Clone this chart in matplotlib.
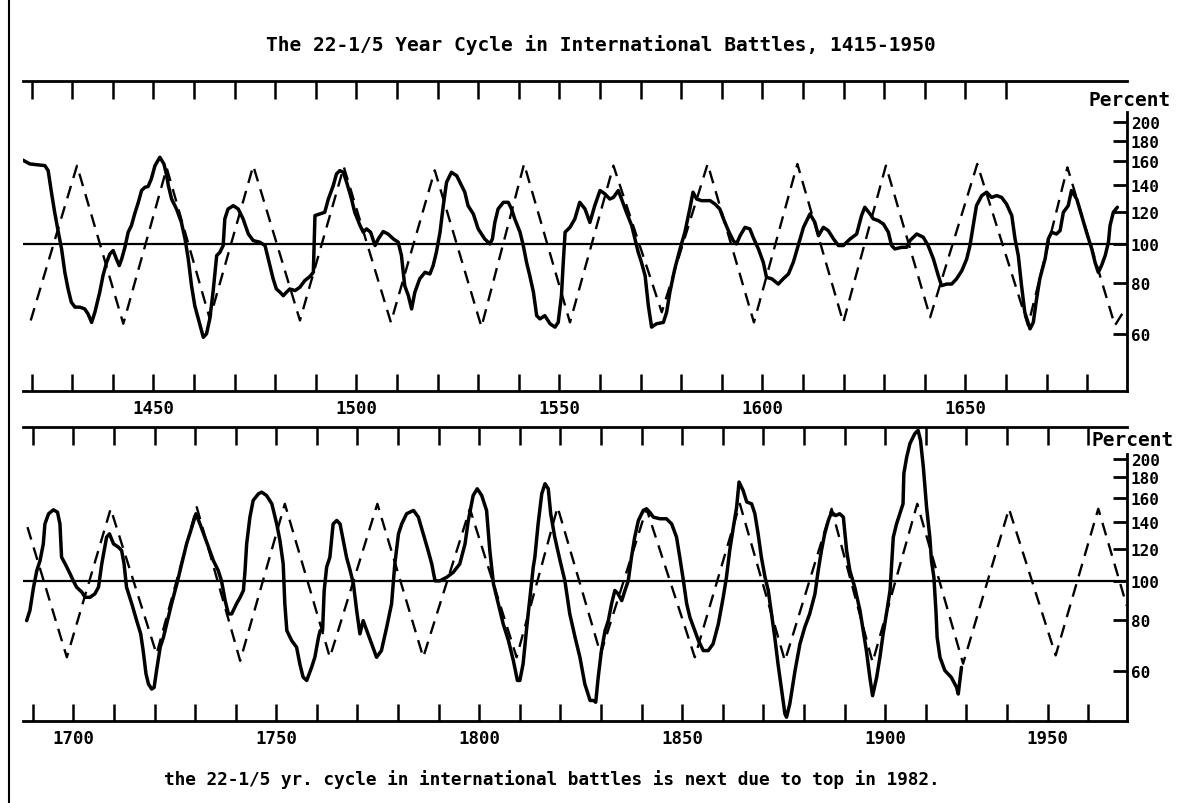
import matplotlib
matplotlib.use('Agg')
import matplotlib.pyplot as plt
from matplotlib.lines import Line2D
from matplotlib.ticker import NullLocator, NullFormatter

# ---------------- data ----------------
title = "The 22-1/5 Year Cycle in International Battles, 1415-1950"
footer = "the 22-1/5 yr. cycle in international battles is next due to top in 1982."

# Battles index, upper panel (percent of trend)
top_years = [1417.9, 1419.6, 1423.3, 1424.1, 1424.9, 1425.7, 1426.6, 1427.4, 1428.2, 1429.0,
             1429.8, 1430.7, 1431.9, 1433.1, 1433.9, 1434.8, 1435.6, 1436.8, 1437.6, 1438.5,
             1439.3, 1440.1, 1440.9, 1441.6, 1442.2, 1443.0, 1443.8, 1444.6, 1445.4, 1446.3,
             1447.1, 1447.9, 1448.7, 1449.5, 1450.4, 1451.6, 1452.6, 1453.2, 1453.7, 1454.5,
             1455.7, 1456.9, 1457.8, 1458.6, 1459.4, 1460.2, 1461.5, 1462.3, 1463.1, 1463.9,
             1464.7, 1465.6, 1466.4, 1467.2, 1467.6, 1468.4, 1469.7, 1470.9, 1472.1, 1473.4,
             1474.6, 1476.2, 1477.5, 1478.3, 1479.5, 1480.3, 1481.2, 1482.0, 1482.8, 1483.6,
             1484.9, 1486.1, 1487.3, 1488.5,
             1489.4, 1489.8, 1491.0, 1492.2, 1493.1, 1494.3, 1495.1, 1495.9, 1496.8, 1497.6,
             1498.8, 1499.6, 1500.9, 1501.7, 1502.5, 1503.5, 1504.6, 1505.4, 1506.6, 1507.8,
             1509.1, 1510.3, 1511.1, 1511.9, 1512.8, 1513.6, 1514.4, 1515.6, 1516.9, 1518.1,
             1518.9, 1519.7, 1520.6, 1521.4, 1522.2, 1523.4, 1524.7, 1525.9, 1526.7, 1527.5,
             1528.8, 1530.0, 1531.6, 1532.9, 1533.5, 1534.1, 1534.9, 1536.2, 1537.4, 1538.2,
             1539.0, 1540.3, 1541.1, 1541.9, 1542.7, 1543.6, 1544.4, 1545.2, 1546.4, 1547.7,
             1548.9, 1549.7, 1550.5, 1550.9, 1551.4, 1552.6, 1553.8, 1555.0, 1556.3, 1557.5,
             1558.7, 1560.0, 1561.2, 1562.4, 1563.3, 1564.5, 1565.3, 1566.5, 1567.8, 1568.6,
             1569.4, 1570.2, 1571.1, 1571.9, 1572.7, 1573.9, 1575.6, 1576.4, 1577.2, 1578.4,
             1579.7, 1580.9, 1582.1, 1582.9, 1583.8, 1585.0, 1587.1, 1588.3, 1589.5, 1590.4,
             1591.6, 1592.8, 1593.6, 1594.5, 1595.7, 1596.9, 1597.7, 1599.0, 1600.2, 1601.0,
             1602.3, 1603.9, 1605.1, 1606.4, 1607.6, 1608.8, 1610.1, 1611.7, 1612.9, 1613.8,
             1615.0, 1616.2, 1617.5, 1618.7, 1619.9, 1621.6, 1623.2, 1624.4, 1625.2, 1626.5,
             1627.3, 1628.5, 1629.8, 1631.0, 1631.8, 1632.6, 1634.3, 1635.5, 1636.3, 1638.0,
             1639.6, 1640.8, 1642.1, 1643.3, 1644.1, 1645.4, 1646.6, 1647.8, 1649.1, 1650.3,
             1651.1, 1651.9, 1652.7, 1654.0, 1655.2, 1656.4, 1657.7, 1658.9, 1660.1, 1661.4,
             1662.2, 1663.0, 1663.8, 1664.6, 1665.9, 1666.7, 1667.5, 1668.3, 1669.6, 1670.4,
             1671.2, 1672.4, 1673.3, 1674.1, 1675.3, 1676.1, 1677.4, 1678.6, 1679.8, 1681.1,
             1681.9, 1682.7, 1683.5, 1684.4, 1685.2, 1685.6, 1686.4, 1687.4]
top_values = [161.0, 157.6, 156.1, 151.7, 134.2, 119.7, 106.9, 97.2, 85.1, 77.4,
              71.8, 69.8, 69.8, 69.1, 67.2, 64.0, 67.8, 76.0, 83.5, 90.1,
              94.5, 96.3, 91.8, 88.4, 91.8, 98.1, 106.9, 111.0, 118.6, 126.7,
              135.5, 138.0, 138.6, 144.7, 156.1, 163.7, 157.6, 148.9, 139.3, 129.1,
              122.0, 113.1, 102.9, 91.8, 78.9, 70.4, 62.9, 58.8, 60.0, 65.3,
              76.0, 93.6, 95.4, 99.1, 115.3, 122.0, 124.3, 122.0, 115.3, 105.8,
              101.9, 101.0, 99.1, 91.8, 82.0, 77.4, 76.0, 74.5, 76.0, 77.4,
              76.7, 78.2, 81.2, 83.0,
              85.1, 117.5, 118.6, 119.7, 129.1, 139.3, 148.9, 151.7, 150.3, 142.0,
              129.1, 119.7, 111.0, 106.9, 108.9, 106.9, 99.1, 102.9, 107.3, 105.8,
              102.9, 101.0, 93.6, 78.9, 74.5, 69.1, 76.0, 82.0, 85.1, 84.3,
              88.4, 95.4, 106.9, 124.3, 142.0, 150.3, 147.4, 139.3, 134.2, 124.3,
              118.6, 108.9, 102.9, 100.0, 102.9, 113.1, 122.0, 126.7, 126.7, 122.0,
              115.3, 106.9, 99.1, 90.1, 83.5, 76.0, 66.5, 65.3, 66.5, 63.5,
              62.3, 64.0, 74.5, 88.4, 106.9, 109.9, 115.3, 126.7, 122.0, 113.0,
              124.3, 135.5, 132.9, 129.1, 130.3, 135.5, 129.1, 119.7, 111.0, 102.9,
              95.4, 90.1, 83.5, 70.4, 62.3, 63.5, 64.0, 67.8, 76.0, 86.7,
              97.2, 106.9, 122.0, 134.2, 129.1, 127.9, 127.9, 125.5, 122.0, 115.3,
              107.9, 101.9, 100.0, 104.8, 109.9, 108.9, 103.9, 97.2, 90.1, 82.7,
              82.0, 79.6, 82.0, 84.3, 90.1, 99.1, 109.9, 118.6, 113.1, 104.8,
              109.9, 107.9, 102.9, 99.1, 99.1, 102.9, 105.8, 117.5, 123.2, 118.6,
              115.3, 114.2, 112.0, 106.9, 99.1, 97.2, 98.1, 98.1, 101.9, 105.8,
              103.9, 99.1, 91.8, 83.5, 78.9, 79.6, 79.6, 82.0, 85.9, 91.8,
              99.1, 111.0, 124.3, 131.6, 134.2, 130.3, 131.6, 130.3, 125.5, 117.5,
              102.9, 93.6, 78.9, 67.8, 61.7, 64.0, 73.1, 82.0, 91.8, 102.9,
              106.9, 105.8, 107.9, 119.7, 124.3, 135.5, 129.1, 117.5, 106.9, 97.2,
              90.1, 85.1, 88.4, 93.6, 101.0, 111.0, 119.7, 123.2]

# Battles index, lower panel
bot_years = [1688.5, 1689.3, 1690.2, 1691.0, 1691.8, 1692.6, 1693.0, 1693.9, 1695.1, 1696.1,
             1696.7, 1697.1, 1698.0, 1699.2, 1700.0, 1700.8, 1702.1, 1702.9, 1704.1, 1705.3,
             1706.2, 1707.0, 1708.2, 1708.9, 1709.9, 1711.1, 1711.9, 1712.5, 1713.1, 1714.4,
             1715.6, 1716.6, 1717.2, 1717.9, 1718.5, 1719.3, 1719.9, 1720.5, 1721.4, 1722.2,
             1723.0, 1724.2, 1725.5, 1726.7, 1727.9, 1729.2, 1730.2, 1731.2, 1732.4, 1733.3,
             1734.5, 1735.7, 1736.5, 1737.4, 1738.2, 1739.0, 1740.2, 1741.1, 1741.9, 1742.3,
             1742.7, 1743.5, 1744.3, 1745.6, 1746.4, 1747.6, 1748.9, 1750.1, 1750.9, 1751.7,
             1752.1, 1752.6, 1753.8, 1755.0, 1755.8, 1756.6, 1757.5,
             1758.7, 1759.5, 1760.4, 1760.8, 1761.4, 1761.8, 1762.4, 1763.2, 1764.0, 1764.9,
             1765.7, 1766.5, 1767.3, 1768.2, 1769.0, 1769.8, 1770.6, 1771.4, 1772.3, 1773.5,
             1774.7, 1775.9, 1777.2, 1778.4, 1779.2, 1780.1, 1780.9, 1782.1, 1783.8, 1785.0,
             1786.2, 1787.4, 1788.3, 1789.1, 1790.3, 1792.0, 1793.6, 1795.2, 1796.5, 1797.3,
             1798.5, 1799.5, 1800.6, 1801.8, 1802.6, 1803.5, 1804.7, 1805.9, 1807.2, 1808.4,
             1809.4, 1810.0, 1810.8, 1811.7, 1812.5, 1813.3, 1813.7, 1814.5, 1815.4, 1816.2,
             1817.0, 1817.6, 1818.6, 1819.9, 1821.1, 1822.3, 1823.6, 1824.8, 1826.0, 1827.3,
             1828.1, 1828.7, 1829.3, 1830.1, 1831.0, 1831.8, 1832.6, 1833.4, 1834.2, 1835.1,
             1835.9, 1836.7, 1837.5, 1838.3, 1839.2, 1840.4, 1841.2, 1842.0, 1842.9, 1844.5,
             1846.1, 1847.4, 1848.6, 1849.4, 1850.3, 1851.1, 1851.9, 1853.1, 1854.0, 1855.2,
             1856.4, 1857.6, 1858.9, 1860.1, 1860.9, 1861.7, 1862.6, 1863.4, 1864.0, 1865.0,
             1865.9, 1867.1, 1867.9, 1868.7, 1869.5, 1870.4, 1871.2, 1872.0, 1872.8, 1873.6,
             1874.5, 1875.3, 1875.7, 1876.5, 1877.8, 1879.0, 1880.2, 1881.4, 1882.7, 1883.5,
             1884.3, 1885.1, 1886.0, 1886.8, 1887.8, 1888.8, 1889.7, 1890.5, 1891.3, 1892.5,
             1893.8, 1895.4, 1896.2,
             1896.9, 1897.9, 1898.7, 1899.5, 1900.3, 1901.2, 1901.6, 1902.0, 1902.8, 1903.6,
             1904.4, 1904.6, 1905.3, 1906.1, 1907.3, 1908.1, 1908.7, 1909.4, 1910.2, 1911.0,
             1911.4, 1912.0, 1912.5, 1912.8, 1913.5, 1914.7, 1916.3, 1917.6, 1918.0, 1918.8]
bot_values = [79.8, 84.5, 96.5, 106.0, 112.2, 123.4, 138.2, 146.4, 149.7, 147.7,
              138.2, 114.4, 110.1, 104.1, 100.0, 96.5, 93.8, 91.1, 91.1, 92.9,
              96.5, 110.1, 128.2, 130.6, 123.4, 121.1, 118.8, 110.1, 96.5, 87.8,
              79.8, 74.0, 67.3, 59.0, 55.7, 54.1, 54.6, 60.1, 68.6, 72.6,
              78.3, 87.8, 98.3, 110.1, 123.4, 135.7, 146.4, 138.2, 128.2, 121.1,
              112.2, 106.0, 100.0, 89.4, 82.9, 82.9, 87.8, 91.1, 94.7, 106.0,
              123.4, 143.6, 157.9, 164.0, 165.5, 162.4, 154.9, 138.2, 125.8, 110.1,
              87.8, 75.4, 71.2, 68.6, 62.4, 57.9, 56.8,
              61.2, 64.8, 72.6, 75.4, 75.4, 94.7, 108.1, 114.4, 138.2, 140.9,
              138.2, 125.8, 114.4, 106.0, 98.3, 84.5, 74.0, 79.8, 75.4, 69.9,
              64.8, 67.3, 76.9, 87.8, 110.1, 130.6, 138.2, 146.4, 149.2, 143.6,
              130.6, 118.8, 110.1, 100.0, 100.0, 102.1, 105.0, 110.1, 123.4, 140.9,
              162.4, 168.7, 162.4, 149.2, 118.8, 98.3, 87.8, 78.3, 71.2, 63.6,
              56.8, 56.8, 62.4, 76.9, 91.1, 108.1, 114.4, 138.2, 164.0, 173.6,
              168.7, 146.4, 128.2, 112.2, 100.0, 82.9, 72.6, 64.8, 55.7, 50.7,
              50.7, 50.2, 57.8, 67.3, 75.4, 79.8, 87.8, 94.7, 92.9, 89.4,
              94.7, 100.0, 114.4, 128.2, 140.9, 149.2, 150.6, 147.7, 143.6, 142.3,
              142.3, 138.2, 128.2, 114.4, 100.0, 87.8, 81.3, 75.4, 71.2, 67.3,
              67.3, 69.9, 78.3, 91.1, 102.1, 118.8, 135.7, 151.9, 175.3, 167.1,
              156.5, 154.9, 146.4, 130.6, 114.4, 102.1, 94.7, 82.9, 72.6, 62.4,
              53.6, 47.0, 46.1, 49.7, 60.1, 69.9, 76.9, 82.9, 92.9, 106.0,
              118.8, 130.6, 140.9, 147.7, 144.9, 146.4, 143.6, 118.8, 106.0, 96.5,
              84.5, 67.0, 58.0,
              52.1, 57.8, 64.8, 74.0, 82.9, 94.7, 110.1, 128.2, 138.2, 146.4,
              154.9, 183.9, 202.0, 218.1, 230.7, 235.2, 222.2, 190.8, 151.9, 128.2,
              112.2, 102.1, 84.5, 72.6, 64.8, 60.1, 57.8, 54.6, 52.6, 61.2]

# 22-1/5 year ideal cycle: turning points (year, percent)
top_cycle_years = [1419.8, 1431.2, 1442.6, 1453.3, 1463.9, 1474.6, 1486.1, 1496.9, 1508.5,
                   1519.3, 1530.8, 1541.3, 1552.6, 1563.3, 1575.2, 1586.5, 1597.9, 1608.6,
                   1619.9, 1630.4, 1641.3, 1652.9, 1665.4, 1675.1, 1686.8, 1689.7]
top_cycle_values = [64.7, 156.1, 63.5, 154.0, 65.3, 156.0, 64.7, 155.0, 64.0,
                    152.0, 62.4, 157.6, 64.0, 156.1, 67.8, 157.6, 64.0, 157.6,
                    64.0, 156.1, 65.9, 157.6, 62.9, 154.6, 62.9, 70.0]
bot_cycle_years = [1688.7, 1698.4, 1709.2, 1720.5, 1730.4, 1741.1, 1752.1, 1763.2, 1774.9,
                   1786.2, 1797.7, 1809.2, 1819.3, 1829.9, 1841.2, 1853.1, 1864.2, 1875.3,
                   1886.8, 1896.9, 1907.9, 1919.2, 1930.5, 1942.0, 1952.5, 1959.5]
bot_cycle_values = [135.7, 64.8, 150.6, 66.0, 152.0, 63.5, 154.9, 64.8, 154.9,
                    64.8, 150.6, 64.8, 152.0, 66.0, 150.6, 64.8, 154.9, 63.5,
                    150.6, 63.0, 154.9, 62.5, 150.6, 65.5, 150.6, 86.9]

percent_ticks = [60, 80, 100, 120, 140, 160, 180, 200]
top_decades = list(range(1420, 1690, 10))
bot_decades = list(range(1690, 1960, 10))
top_label_years = [1450, 1500, 1550, 1600, 1650]
top_label_text = ['1450', '1500', '1550', '1600', '1650']
bot_label_years = [1700, 1750, 1800, 1850, 1900, 1940]
bot_label_text = ['1700', '1750', '1800', '1850', '1900', '1950']

# ---------------- drawing ----------------
W, H = 1185.0, 804.0
MONO = ['DejaVu Sans Mono']
fig = plt.figure(figsize=(W / 100, H / 100), dpi=100)
fig.patch.set_facecolor('white')


def rect(x0, y0, x1, y1):
    return [x0 / W, 1 - y1 / H, (x1 - x0) / W, (y1 - y0) / H]


def panel(ax, xlim, ylim, yrs, vals, cyc_y, cyc_v, decades, top_ticks,
          lab_years, lab_text, spine_top, pct_xy):
    ax.set_yscale('log')
    ax.set_xlim(*xlim)
    ax.set_ylim(*ylim)
    ax.axhline(100, color='black', lw=1.6, zorder=2)
    ax.plot(cyc_y, cyc_v, color='black', lw=1.7, dashes=(5.5, 3.5), zorder=3)
    ax.plot(yrs, vals, color='black', lw=2.5, zorder=4,
            solid_joinstyle='round', solid_capstyle='round')
    ax.spines['left'].set_visible(False)
    for s in ('top', 'bottom', 'right'):
        ax.spines[s].set_linewidth(2.0)
    ax.spines['right'].set_bounds(ylim[0], spine_top)

    lab_map = dict(zip(lab_years, lab_text))
    ax.set_xticks(decades, labels=[lab_map.get(d, '') for d in decades])
    ax.tick_params(axis='x', bottom=True, top=False, direction='in',
                   length=12, width=1.8, pad=6, labelsize=12.5)
    for t in ax.get_xticklabels():
        t.set_family(MONO)
        t.set_fontweight('bold')

    sec = ax.secondary_xaxis('top')
    sec.set_xticks(top_ticks)
    sec.tick_params(direction='in', length=13, width=1.8, labeltop=False)
    for s in sec.spines.values():
        s.set_visible(False)

    ax.yaxis.tick_right()
    ax.set_yticks(percent_ticks, labels=[str(v) for v in percent_ticks])
    ax.yaxis.set_minor_locator(NullLocator())
    ax.yaxis.set_minor_formatter(NullFormatter())
    ax.tick_params(axis='y', direction='in', length=10, width=2, pad=3,
                   labelsize=11.5)
    for t in ax.get_yticklabels():
        t.set_family(MONO)
        t.set_fontweight('bold')

    ax.text(pct_xy[0], pct_xy[1], 'Percent', transform=ax.transAxes,
            ha='left', va='center', fontsize=14, fontweight='bold', family=MONO)


ax1 = fig.add_axes(rect(23, 82, 1126.7, 391.7))
panel(ax1, (1417.9, 1689.7), (43.4, 252.6), top_years, top_values,
      top_cycle_years, top_cycle_values, top_decades, list(range(1420, 1670, 10)),
      top_label_years, top_label_text, 211.8, (0.965, 0.939))

ax2 = fig.add_axes(rect(23, 428.3, 1126.7, 721.7))
panel(ax2, (1687.6, 1959.5), (45.2, 239.2), bot_years, bot_values,
      bot_cycle_years, bot_cycle_values, bot_decades, bot_decades,
      bot_label_years, bot_label_text, 205.9, (0.968, 0.959))

fig.text(601 / W, 1 - 45 / H, title, ha='center', va='center', fontsize=14,
         fontweight='bold', family=MONO)
fig.text(552 / W, 1 - 780 / H, footer, ha='center', va='center', fontsize=12.8,
         fontweight='bold', family=MONO)

fig.add_artist(Line2D([9 / W, 9 / W], [0, 1], color='black', lw=1.5,
                      transform=fig.transFigure))

fig.savefig('out.png', dpi=100, facecolor='white')
